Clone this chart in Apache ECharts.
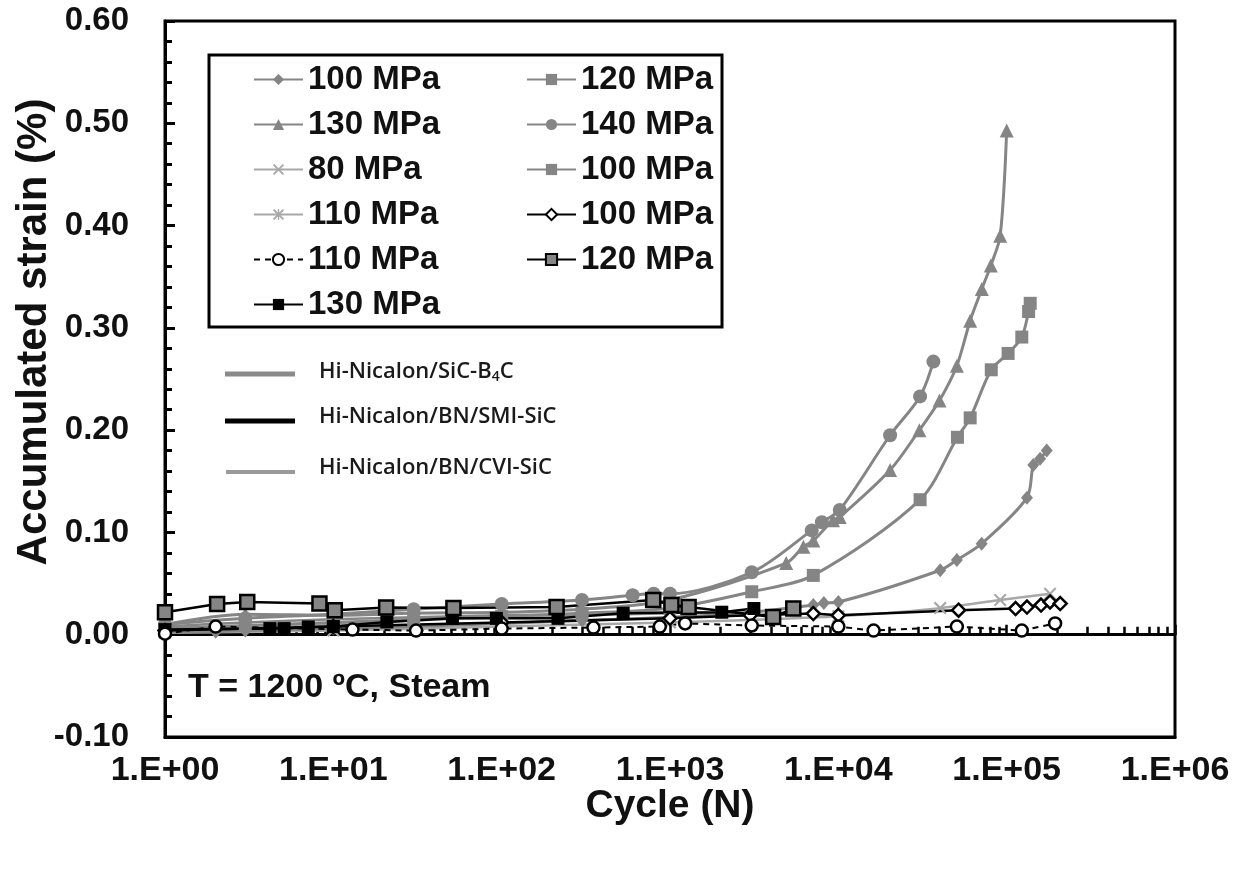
<!DOCTYPE html>
<html><head><meta charset="utf-8">
<script src="https://cdn.jsdelivr.net/npm/echarts@6/dist/echarts.min.js"></script>
<style>html,body{margin:0;padding:0;background:#fff}#c{width:1247px;height:886px}</style>
</head><body><div id="c"></div>
<script>
// ---------- tick labels ----------
const xTickLabels = ['1.E+00','1.E+01','1.E+02','1.E+03','1.E+04','1.E+05','1.E+06'];
const yTickLabels = ['-0.10','0.00','0.10','0.20','0.30','0.40','0.50','0.60'];

// ---------- Hi-Nicalon/SiC-B4C ----------
const b4c100N = [1,2,3,10,30,100,300,1000,3000,7100,8200,10000,40300,50600,71000,132000,144000,158000,173000];
const b4c100S = [0.003,0.003,0.004,0.006,0.008,0.011,0.014,0.017,0.022,0.029,0.031,0.032,0.063,0.073,0.089,0.134,0.166,0.172,0.180];
const b4c120N = [1,3,10,30,100,300,1000,3060,7100,30600,51000,60700,81000,102000,123000,135000,138000];
const b4c120S = [0.006,0.009,0.012,0.015,0.018,0.021,0.026,0.042,0.058,0.132,0.193,0.212,0.259,0.275,0.291,0.316,0.324];
const b4c130N = [1,3,10,30,100,300,1000,4900,6200,7100,9300,10200,20300,30300,39900,50600,60700,71200,80500,91500,100000];
const b4c130S = [0.010,0.020,0.019,0.021,0.022,0.025,0.034,0.070,0.086,0.092,0.112,0.115,0.161,0.200,0.229,0.263,0.307,0.338,0.361,0.390,0.493];
const b4c140N = [1,3,10,30,100,300,600,800,1000,3060,6950,7980,10200,20300,30600,36700];
const b4c140S = [0.010,0.016,0.020,0.025,0.030,0.034,0.0386,0.040,0.040,0.061,0.102,0.110,0.122,0.195,0.233,0.267];

// ---------- Hi-Nicalon/BN/CVI-SiC ----------
const cvi80N = [1,10,100,1000,10000,40300,91500,181000];
const cvi80S = [0.002,0.004,0.008,0.012,0.018,0.026,0.034,0.040];
const cvi110N = [1,3,10,30,100,300,1000];
const cvi110S = [0.004,0.008,0.011,0.014,0.017,0.019,0.021];
const cvi100N = [1,3,10,30,100,300,1000,2000];
const cvi100S = [0.008,0.012,0.015,0.017,0.019,0.020,0.022,0.021];

// ---------- Hi-Nicalon/BN/SMI-SiC ----------
const smi110N = [1,2,13,31,100,351,870,1230,3060,10000,16200,50600,123000,194000];
const smi110S = [0.001,0.008,0.005,0.004,0.006,0.007,0.008,0.011,0.009,0.008,0.004,0.008,0.004,0.011];
const smi130N = [1,4.2,5.1,7.1,10,20.8,51,93,216,527,2030,3150];
const smi130S = [0.005,0.006,0.006,0.0076,0.008,0.0125,0.016,0.016,0.016,0.021,0.022,0.0256];
const smi100N = [1,10,100,1000,3000,7100,10000,51800,113000,132000,160000,181000,208000];
const smi100S = [0.004,0.008,0.012,0.016,0.019,0.0207,0.019,0.024,0.0256,0.027,0.029,0.032,0.0305];
const smi120N = [1,2.04,3.08,8.27,10.2,20.6,51.7,212,795,1020,1290,4100,5400];
const smi120S = [0.022,0.030,0.032,0.0305,0.024,0.0266,0.026,0.027,0.034,0.029,0.027,0.0174,0.0256];

const legendLeft = ['b4c100|100 MPa','b4c130|130 MPa','cvi80|80 MPa','cvi110|110 MPa','smi110|110 MPa','smi130|130 MPa'];
const legendRight = ['b4c120|120 MPa','b4c140|140 MPa','cvi100|100 MPa','smi100|100 MPa','smi120|120 MPa'];

const GRAY = '#858585', LGRAY = '#a8a8a8', BLACK = '#000';
const X_PATH = 'path://M0,1.2 L1.2,0 L10,8.8 L8.8,10 Z M8.8,0 L10,1.2 L1.2,10 L0,8.8 Z';
const STAR_PATH = 'path://M0,1.2 L1.2,0 L10,8.8 L8.8,10 Z M8.8,0 L10,1.2 L1.2,10 L0,8.8 Z M4.4,0 L5.6,0 L5.6,10 L4.4,10 Z';

function pairs(n, s){ return n.map((v,i)=>[v, s[i]]); }
function mk(name, n, s, o){
  return Object.assign({
    type:'line', name, data: pairs(n,s), xAxisIndex:0, yAxisIndex:0,
    symbolKeepAspect:true, z:3
  }, o);
}

const series = [
  mk('cvi110|110 MPa', cvi110N, cvi110S, {symbol:STAR_PATH, symbolSize:12, smooth:0.3,
     itemStyle:{color:LGRAY}, lineStyle:{color:LGRAY, width:2.5}}),
  mk('cvi100|100 MPa', cvi100N, cvi100S, {symbol:'rect', symbolSize:10, smooth:0.3,
     itemStyle:{color:GRAY}, lineStyle:{color:GRAY, width:2.5}}),
  mk('cvi80|80 MPa', cvi80N, cvi80S, {symbol:X_PATH, symbolSize:13, smooth:0.3,
     itemStyle:{color:LGRAY}, lineStyle:{color:LGRAY, width:2.5}}),
  mk('b4c100|100 MPa', b4c100N, b4c100S, {symbol:'diamond', symbolSize:[12,14], smooth:0.3,
     itemStyle:{color:GRAY}, lineStyle:{color:GRAY, width:3}}),
  mk('b4c120|120 MPa', b4c120N, b4c120S, {symbol:'rect', symbolSize:13, smooth:0.3,
     itemStyle:{color:GRAY}, lineStyle:{color:GRAY, width:3}}),
  mk('b4c130|130 MPa', b4c130N, b4c130S, {symbol:'triangle', symbolSize:14, smooth:0.3,
     itemStyle:{color:GRAY}, lineStyle:{color:GRAY, width:3}}),
  mk('b4c140|140 MPa', b4c140N, b4c140S, {symbol:'circle', symbolSize:14, smooth:0.3,
     itemStyle:{color:GRAY}, lineStyle:{color:GRAY, width:3}}),
  mk('smi100|100 MPa', smi100N, smi100S, {symbol:'diamond', symbolSize:13,
     itemStyle:{color:'#fff', borderColor:BLACK, borderWidth:2.5}, lineStyle:{color:BLACK, width:2.5}}),
  mk('smi130|130 MPa', smi130N, smi130S, {symbol:'rect', symbolSize:13,
     itemStyle:{color:BLACK}, lineStyle:{color:BLACK, width:2.5}}),
  mk('smi120|120 MPa', smi120N, smi120S, {symbol:'rect', symbolSize:14,
     itemStyle:{color:GRAY, borderColor:BLACK, borderWidth:2.5}, lineStyle:{color:BLACK, width:2.5}}),
  mk('smi110|110 MPa', smi110N, smi110S, {symbol:'circle', symbolSize:12,
     itemStyle:{color:'#fff', borderColor:BLACK, borderWidth:2.5}, lineStyle:{color:BLACK, width:2, type:[6,5]}})
];

const FONT = 'Liberation Sans, Arial, sans-serif';
const legendCommon = {
  orient:'vertical', top:63, padding:0, itemWidth:49, itemHeight:14, itemGap:12,
  selectedMode:false, formatter: n => n.split('|')[1],
  textStyle:{fontFamily:FONT, fontWeight:'bold', fontSize:33, color:'#111', lineHeight:30, padding:[0,0,0,0]}
};

const chart = echarts.init(document.getElementById('c'), null, {renderer:'canvas'});
chart.setOption({
  backgroundColor:'#fff',
  animation:false,
  grid:{left:165, right:72, top:21, bottom:149, show:true, borderColor:'#000', borderWidth:3,
        containLabel:false, outerBoundsMode:'none'},
  legend:[
    Object.assign({}, legendCommon, {left:253, data:legendLeft}),
    Object.assign({}, legendCommon, {left:526, data:legendRight})
  ],
  xAxis:[
    {type:'log', logBase:10, min:1, max:1e6, position:'bottom',
     axisLine:{onZero:false, lineStyle:{color:'#000', width:3}},
     axisTick:{show:false}, splitLine:{show:false},
     axisLabel:{margin:17, fontFamily:FONT, fontWeight:'bold', fontSize:34, color:'#111',
       formatter: v => xTickLabels[Math.round(Math.log10(v))]},
     name:'Cycle (N)', nameLocation:'middle', nameGap:50, nameMoveOverlap:false,
     nameTextStyle:{fontFamily:FONT, fontWeight:'bold', fontSize:39, color:'#111'}},
    {type:'log', logBase:10, min:1, max:1e6, position:'bottom',
     axisLine:{onZero:true, onZeroAxisIndex:0, lineStyle:{color:'#000', width:3}},
     axisTick:{show:true, inside:true, length:10, lineStyle:{color:'#000', width:2.5}},
     minorTick:{show:true, splitNumber:9, length:8, lineStyle:{color:'#000', width:2.5}},
     axisLabel:{show:false}, splitLine:{show:false}}
  ],
  yAxis:[{
    type:'value', min:-0.1, max:0.6, interval:0.1,
    axisLine:{show:true, lineStyle:{color:'#000', width:3}},
    axisTick:{show:true, inside:true, length:10, lineStyle:{color:'#000', width:3}},
    minorTick:{show:true, splitNumber:5, length:7, lineStyle:{color:'#000', width:3}},
    splitLine:{show:false},
    axisLabel:{margin:36, fontFamily:FONT, fontWeight:'bold', fontSize:33, color:'#111',
      formatter: v => yTickLabels[Math.round((v + 0.1) / 0.1)]},
    name:'Accumulated strain (%)', nameLocation:'middle', nameGap:110, nameRotate:90, nameMoveOverlap:false,
    nameTextStyle:{fontFamily:FONT, fontWeight:'bold', fontSize:42, color:'#111', padding:[0,0,0,94]}
  }],
  graphic:[
    {type:'rect', shape:{x:209, y:55, width:513, height:272}, style:{fill:'none', stroke:'#000', lineWidth:3}, z:100},
    {type:'line', shape:{x1:225, y1:374, x2:295, y2:374}, style:{stroke:'#8a8a8a', lineWidth:5}, z:100},
    {type:'line', shape:{x1:225, y1:421, x2:295, y2:421}, style:{stroke:'#000', lineWidth:5}, z:100},
    {type:'line', shape:{x1:226, y1:472, x2:295, y2:472}, style:{stroke:'#9a9a9a', lineWidth:4}, z:100},
    {type:'text', left:319, top:361, z:100, style:{text:'{a|Hi-Nicalon/SiC-B}{s|4}{a|C}', rich:{
        a:{fontFamily:'Open Sans', fontWeight:600, fontSize:22, fill:'#1a1a1a'},
        s:{fontFamily:'Open Sans', fontWeight:600, fontSize:14, fill:'#1a1a1a', padding:[10,0,0,0]}}}},
    {type:'text', left:319, top:406, z:100, style:{text:'Hi-Nicalon/BN/SMI-SiC', fontFamily:'Open Sans', fontWeight:600, fontSize:22, fill:'#1a1a1a'}},
    {type:'text', left:319, top:457, z:100, style:{text:'Hi-Nicalon/BN/CVI-SiC', fontFamily:'Open Sans', fontWeight:600, fontSize:22, fill:'#1a1a1a'}},
    {type:'text', left:188, top:671, z:100, style:{text:'T = 1200 ºC, Steam', fontFamily:FONT, fontWeight:'bold', fontSize:34, fill:'#111'}}
  ],
  series
});
</script></body></html>
